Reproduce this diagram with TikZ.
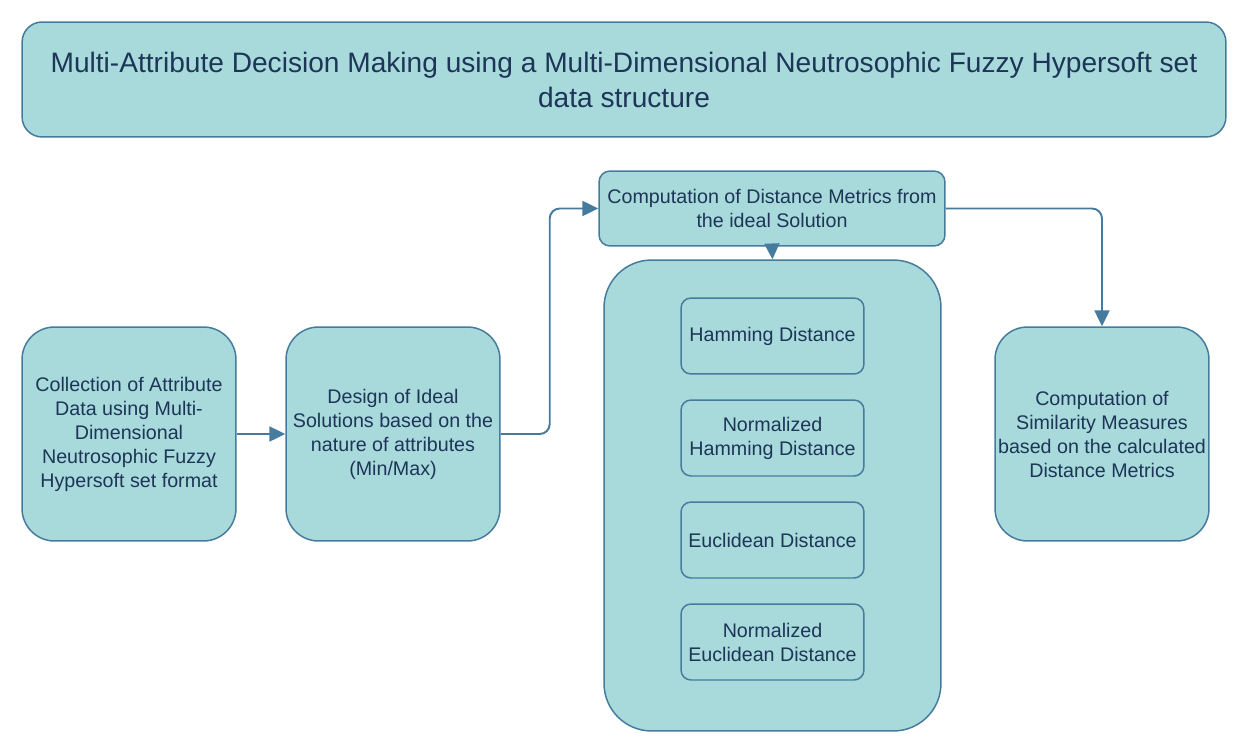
\documentclass[tikz,border=0pt]{standalone}
\usepackage{fontspec}
\setmainfont{Liberation Sans}
\usetikzlibrary{arrows.meta}
\definecolor{boxfill}{HTML}{A8DADC}
\definecolor{boxline}{HTML}{457B9D}
\definecolor{boxtext}{HTML}{1D3557}

\begin{document}
\begin{tikzpicture}[x=0.02cm,y=-0.02cm,
                    base/.style={draw=boxline,fill=boxfill,text=boxtext,line width=0.85pt,align=center,inner sep=1pt,font=\fontsize{11.2}{13.65}\selectfont},
                    titlebox/.style={base,rounded corners=0.4cm,minimum width=24.08cm,minimum height=2.3cm,font=\fontsize{16}{19.9}\selectfont},
                    stagebox/.style={base,rounded corners=0.65cm,minimum width=4.28cm,minimum height=4.28cm},
                    metricbox/.style={base,rounded corners=0.22cm,minimum width=6.92cm,minimum height=1.5cm},
                    holder/.style={base,rounded corners=0.95cm,minimum width=6.74cm,minimum height=9.42cm},
                    subbox/.style={base,rounded corners=0.2cm,minimum width=3.66cm,minimum height=1.52cm},
                    flow/.style={draw=boxline,line width=1.1pt,rounded corners=0.2cm,-{Triangle[length=9pt,width=8.5pt]}}
                ]
                    \useasboundingbox (0,0) rectangle (1248,747);

                    \node[titlebox] (title) at (624,79.5) {Multi-Attribute Decision Making using a Multi-Dimensional Neutrosophic Fuzzy Hypersoft set\\data structure};

                    \node[stagebox] (collect) at (129,434) {Collection of Attribute\\Data using Multi-\\Dimensional\\Neutrosophic Fuzzy\\Hypersoft set format};
                    \node[stagebox] (design) at (393,434) {Design of Ideal\\Solutions based on the\\nature of attributes\\(Min/Max)};
                    \node[metricbox] (dist) at (772,208.5) {Computation of Distance Metrics from\\the ideal Solution};
                    \node[holder] (metrics) at (772.5,495.5) {};
                    \node[stagebox] (sim) at (1102,434) {Computation of\\Similarity Measures\\based on the calculated\\Distance Metrics};

                    \foreach \name [count=\i] in {Hamming Distance,Normalized\\Hamming Distance,Euclidean Distance,Normalized\\Euclidean Distance}
                        {
                        \pgfmathsetmacro{\ypos}{336+102*(\i-1)};
                        \node[subbox] (m\i) at (772.5,\ypos) {\name};
                    }

                    \draw[flow] (collect) -- (design);
                    \draw[flow] (design.east) -- ++(49,0) |- (dist.west);
                    \draw[flow] (dist.east) -| (sim.north);
                    \draw[flow] (dist.south) -- (metrics.north);

                \end{tikzpicture}
\end{document}
